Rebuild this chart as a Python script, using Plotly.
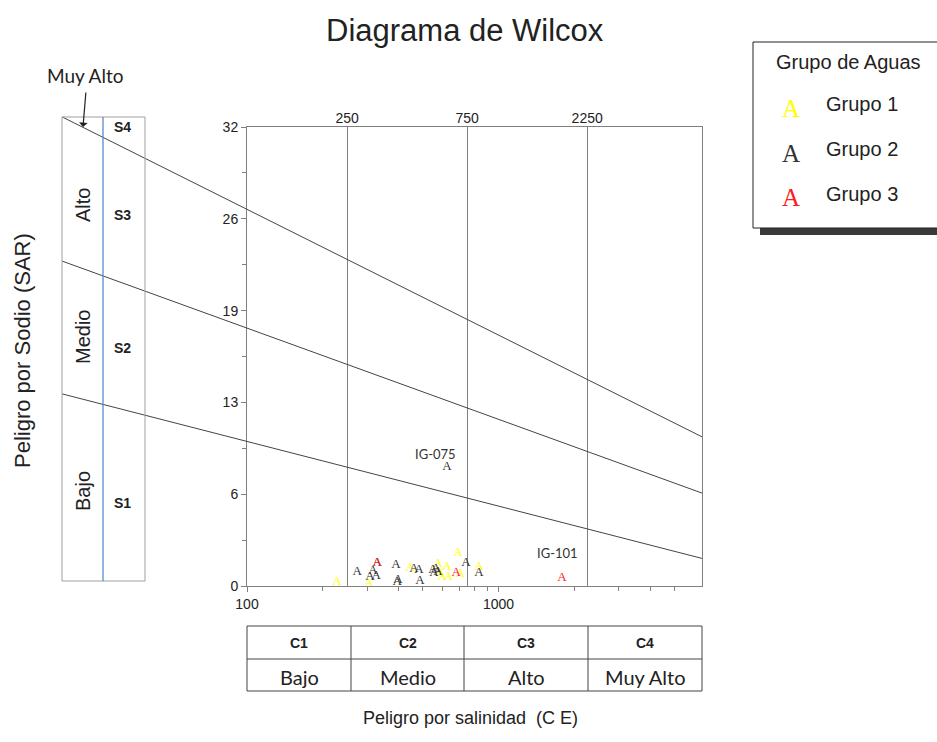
import math
import plotly.graph_objects as go

W, H = 937, 742

# ---------------- data ----------------
g1_ec = [228, 305, 445, 574, 585, 623, 596, 630, 690, 703, 836]
g1_sar = [0.28, 0.14, 1.26, 1.53, 0.91, 1.32, 0.63, 0.63, 2.30, 0.84, 1.32]

g2_ec = [274, 329, 317, 308, 326, 391, 395, 398, 461, 483, 487, 549, 564, 574, 554, 741, 836, 623]
g2_sar = [0.98, 1.60, 1.05, 0.63, 0.70, 1.46, 0.28, 0.42, 1.19, 1.12, 0.35, 1.12, 1.19, 0.98, 0.91, 1.60, 0.91, 8.30]

g3_ec = [329, 678, 1786]
g3_sar = [1.60, 0.91, 0.56]

labeled_names = ["IG-075", "IG-101"]
labeled_ec = [623, 1786]
labeled_sar = [8.30, 0.56]

group_names = ["Grupo 1", "Grupo 2", "Grupo 3"]
group_colors = ["#FFFF00", "#333333", "#FF1A1A"]

# Wilcox boundary lines: SAR = a - b*log10(EC)
line_a = [19.1, 30.7, 43.8]
line_b = [4.51, 6.36, 8.77]
line_logx = [1.265, 3.8085]

top_ticks = [250, 750, 2250]
y_tickvals = [0, 6.4, 12.8, 19.2, 25.6, 32]
y_ticktext = ["0", "6", "13", "19", "26", "32"]
x_tickvals = [100, 1000]
x_minor = [200, 300, 400, 500, 600, 700, 800, 900, 2000, 3000, 4000, 5000]
y_minor = [3.2, 9.6, 16.0, 22.4, 28.8]

c_codes = ["C1", "C2", "C3", "C4"]
c_names = ["Bajo", "Medio", "Alto", "Muy Alto"]
s_codes = ["S4", "S3", "S2", "S1"]
s_names = ["Alto", "Medio", "Bajo"]


def px(x):
    return x / W


def py(y):
    return 1 - y / H


SANS = "Liberation Sans, Arial, sans-serif"
CAL = "Lato, Open Sans, sans-serif"
SERIF = "Liberation Serif, Times New Roman, serif"
AX = "#808080"

fig = go.Figure()

# dummy trace to activate top axis
fig.add_trace(go.Scatter(x=top_ticks, y=[-10, -10, -10], xaxis="x2", yaxis="y",
                         mode="markers", marker=dict(opacity=0), hoverinfo="skip",
                         showlegend=False))

for ec, sar, col, name in zip([g1_ec, g2_ec, g3_ec], [g1_sar, g2_sar, g3_sar],
                              group_colors, group_names):
    fig.add_trace(go.Scatter(x=ec, y=sar, mode="text", text=["A"] * len(ec),
                             textposition="middle center", name=name,
                             textfont=dict(family=SERIF, size=13, color=col),
                             xaxis="x", yaxis="y", showlegend=False, cliponaxis=False))

for a, b in zip(line_a, line_b):
    xs = [10 ** v for v in line_logx]
    ys = [a - b * v for v in line_logx]
    fig.add_trace(go.Scatter(x=xs, y=ys, mode="lines", xaxis="x3", yaxis="y3",
                             line=dict(color="#444444", width=1), hoverinfo="skip",
                             showlegend=False))

ydom = [py(586), py(127)]
xdom = [px(247), px(702)]
x_range = [2, 3.8085]

annotations = []
shapes = []


def txt(x, y, text, font, **kw):
    d = dict(x=px(x), y=py(y), xref="paper", yref="paper", text=text, showarrow=False,
             xanchor="center", yanchor="middle", font=font)
    d.update(kw)
    annotations.append(d)


# IG labels
for nm, ec, sar, (dx, dy) in zip(labeled_names, labeled_ec, labeled_sar, [(-11, 13), (-4, 25)]):
    annotations.append(dict(x=math.log10(ec), y=sar, xref="x", yref="y", text=nm,
                            showarrow=False, xshift=dx, yshift=dy,
                            xanchor="center", yanchor="middle",
                            font=dict(family=CAL, size=13, color="#333")))

# title and axis titles
txt(465, 30, "Diagrama de Wilcox", dict(family=SANS, size=31, color="#222"))
txt(22, 351, "Peligro por Sodio (SAR)", dict(family=SANS, size=22, color="#222"), textangle=-90)
txt(470, 718, "Peligro por salinidad  (C E)", dict(family=SANS, size=18, color="#222"))

# left panel
shapes.append(dict(type="rect", xref="paper", yref="paper", x0=px(62), x1=px(145),
                   y0=py(581), y1=py(117), line=dict(color="#A0A0A0", width=1)))
shapes.append(dict(type="line", xref="paper", yref="paper", x0=px(103), x1=px(103),
                   y0=py(581), y1=py(117), line=dict(color="#5B8BC6", width=1.3)))
for s, yy in zip(s_codes, [127, 215, 348, 503]):
    txt(122, yy, "<b>%s</b>" % s, dict(family=SANS, size=14, color="#222"))
for s, yy in zip(s_names, [205, 337, 491]):
    txt(83, yy, s, dict(family=SANS, size=20, color="#222"), textangle=-90)
txt(85, 75, "Muy Alto", dict(family=CAL, size=19, color="#222"))
annotations.append(dict(x=px(83), y=py(127), xref="paper", yref="paper", text="",
                        showarrow=True, ax=3, ay=-36, arrowhead=1, arrowsize=1.2,
                        arrowwidth=1.2, arrowcolor="#222"))

# bottom table
tx = [247, 351, 464, 588, 702]
shapes.append(dict(type="rect", xref="paper", yref="paper", x0=px(247), x1=px(702),
                   y0=py(691), y1=py(626), line=dict(color="#444", width=1)))
shapes.append(dict(type="line", xref="paper", yref="paper", x0=px(247), x1=px(702),
                   y0=py(659), y1=py(659), line=dict(color="#444", width=1)))
for xv in tx[1:-1]:
    shapes.append(dict(type="line", xref="paper", yref="paper", x0=px(xv), x1=px(xv),
                       y0=py(691), y1=py(626), line=dict(color="#444", width=1)))
for i in range(4):
    cx = (tx[i] + tx[i + 1]) / 2
    txt(cx, 643, "<b>%s</b>" % c_codes[i], dict(family=SANS, size=14, color="#222"))
    txt(cx, 677, c_names[i], dict(family=CAL, size=20, color="#222"))

# legend box
shapes.append(dict(type="rect", xref="paper", yref="paper", x0=px(760), x1=px(960),
                   y0=py(235), y1=py(49), fillcolor="#3A3A3A", line=dict(width=0)))
shapes.append(dict(type="rect", xref="paper", yref="paper", x0=px(753), x1=px(960),
                   y0=py(228), y1=py(42), fillcolor="white", line=dict(color="#222", width=1)))
txt(848, 62, "Grupo de Aguas", dict(family=SANS, size=20, color="#222"))
for nm, col, yA, yT in zip(group_names, group_colors, [109, 153, 197], [104, 149, 194]):
    txt(791, yA, "A", dict(family=SERIF, size=25, color=col))
    txt(824, yT, nm, dict(family=SANS, size=20, color="#222"), xanchor="left")

fig.update_layout(
    width=W, height=H,
    autosize=False,
    margin=dict(l=0, r=0, t=0, b=0, pad=0, autoexpand=False),
    paper_bgcolor="white", plot_bgcolor="rgba(0,0,0,0)",
    showlegend=False,
    xaxis=dict(type="log", range=x_range, domain=xdom, anchor="y", automargin=False,
               tickvals=x_tickvals, ticktext=["100", "1000"], ticks="outside", ticklen=5,
               tickcolor=AX, showline=True, linecolor=AX, mirror=True, showgrid=False,
               zeroline=False, tickfont=dict(family=SANS, size=14, color="#222"),
               minor=dict(tickvals=x_minor, ticks="outside", ticklen=4, tickcolor=AX, showgrid=False)),
    xaxis2=dict(type="log", range=x_range, domain=xdom, overlaying="x", side="top", anchor="y",
                automargin=False,
                tickvals=top_ticks, ticktext=[str(v) for v in top_ticks], ticks="",
                showgrid=True, gridcolor=AX, gridwidth=1, showline=False, zeroline=False,
                tickfont=dict(family=SANS, size=14, color="#222")),
    yaxis=dict(range=[0, 32], domain=ydom, anchor="x", tickvals=y_tickvals, ticktext=y_ticktext,
               automargin=False,
               ticks="outside", ticklen=5, tickcolor=AX, showline=True, linecolor=AX, mirror=True,
               showgrid=False, zeroline=False, tickfont=dict(family=SANS, size=14, color="#222"),
               minor=dict(tickvals=y_minor, ticks="outside", ticklen=4, tickcolor=AX, showgrid=False)),
    xaxis3=dict(type="log", range=[line_logx[0], line_logx[1]], domain=[px(62), px(702)],
                anchor="y3", visible=False, automargin=False),
    yaxis3=dict(range=[0, (586 - 100) / (459 / 32)], domain=[py(586), py(100)],
                anchor="x3", visible=False, automargin=False),
    annotations=annotations,
    shapes=shapes,
)

fig.write_html("out.html")
